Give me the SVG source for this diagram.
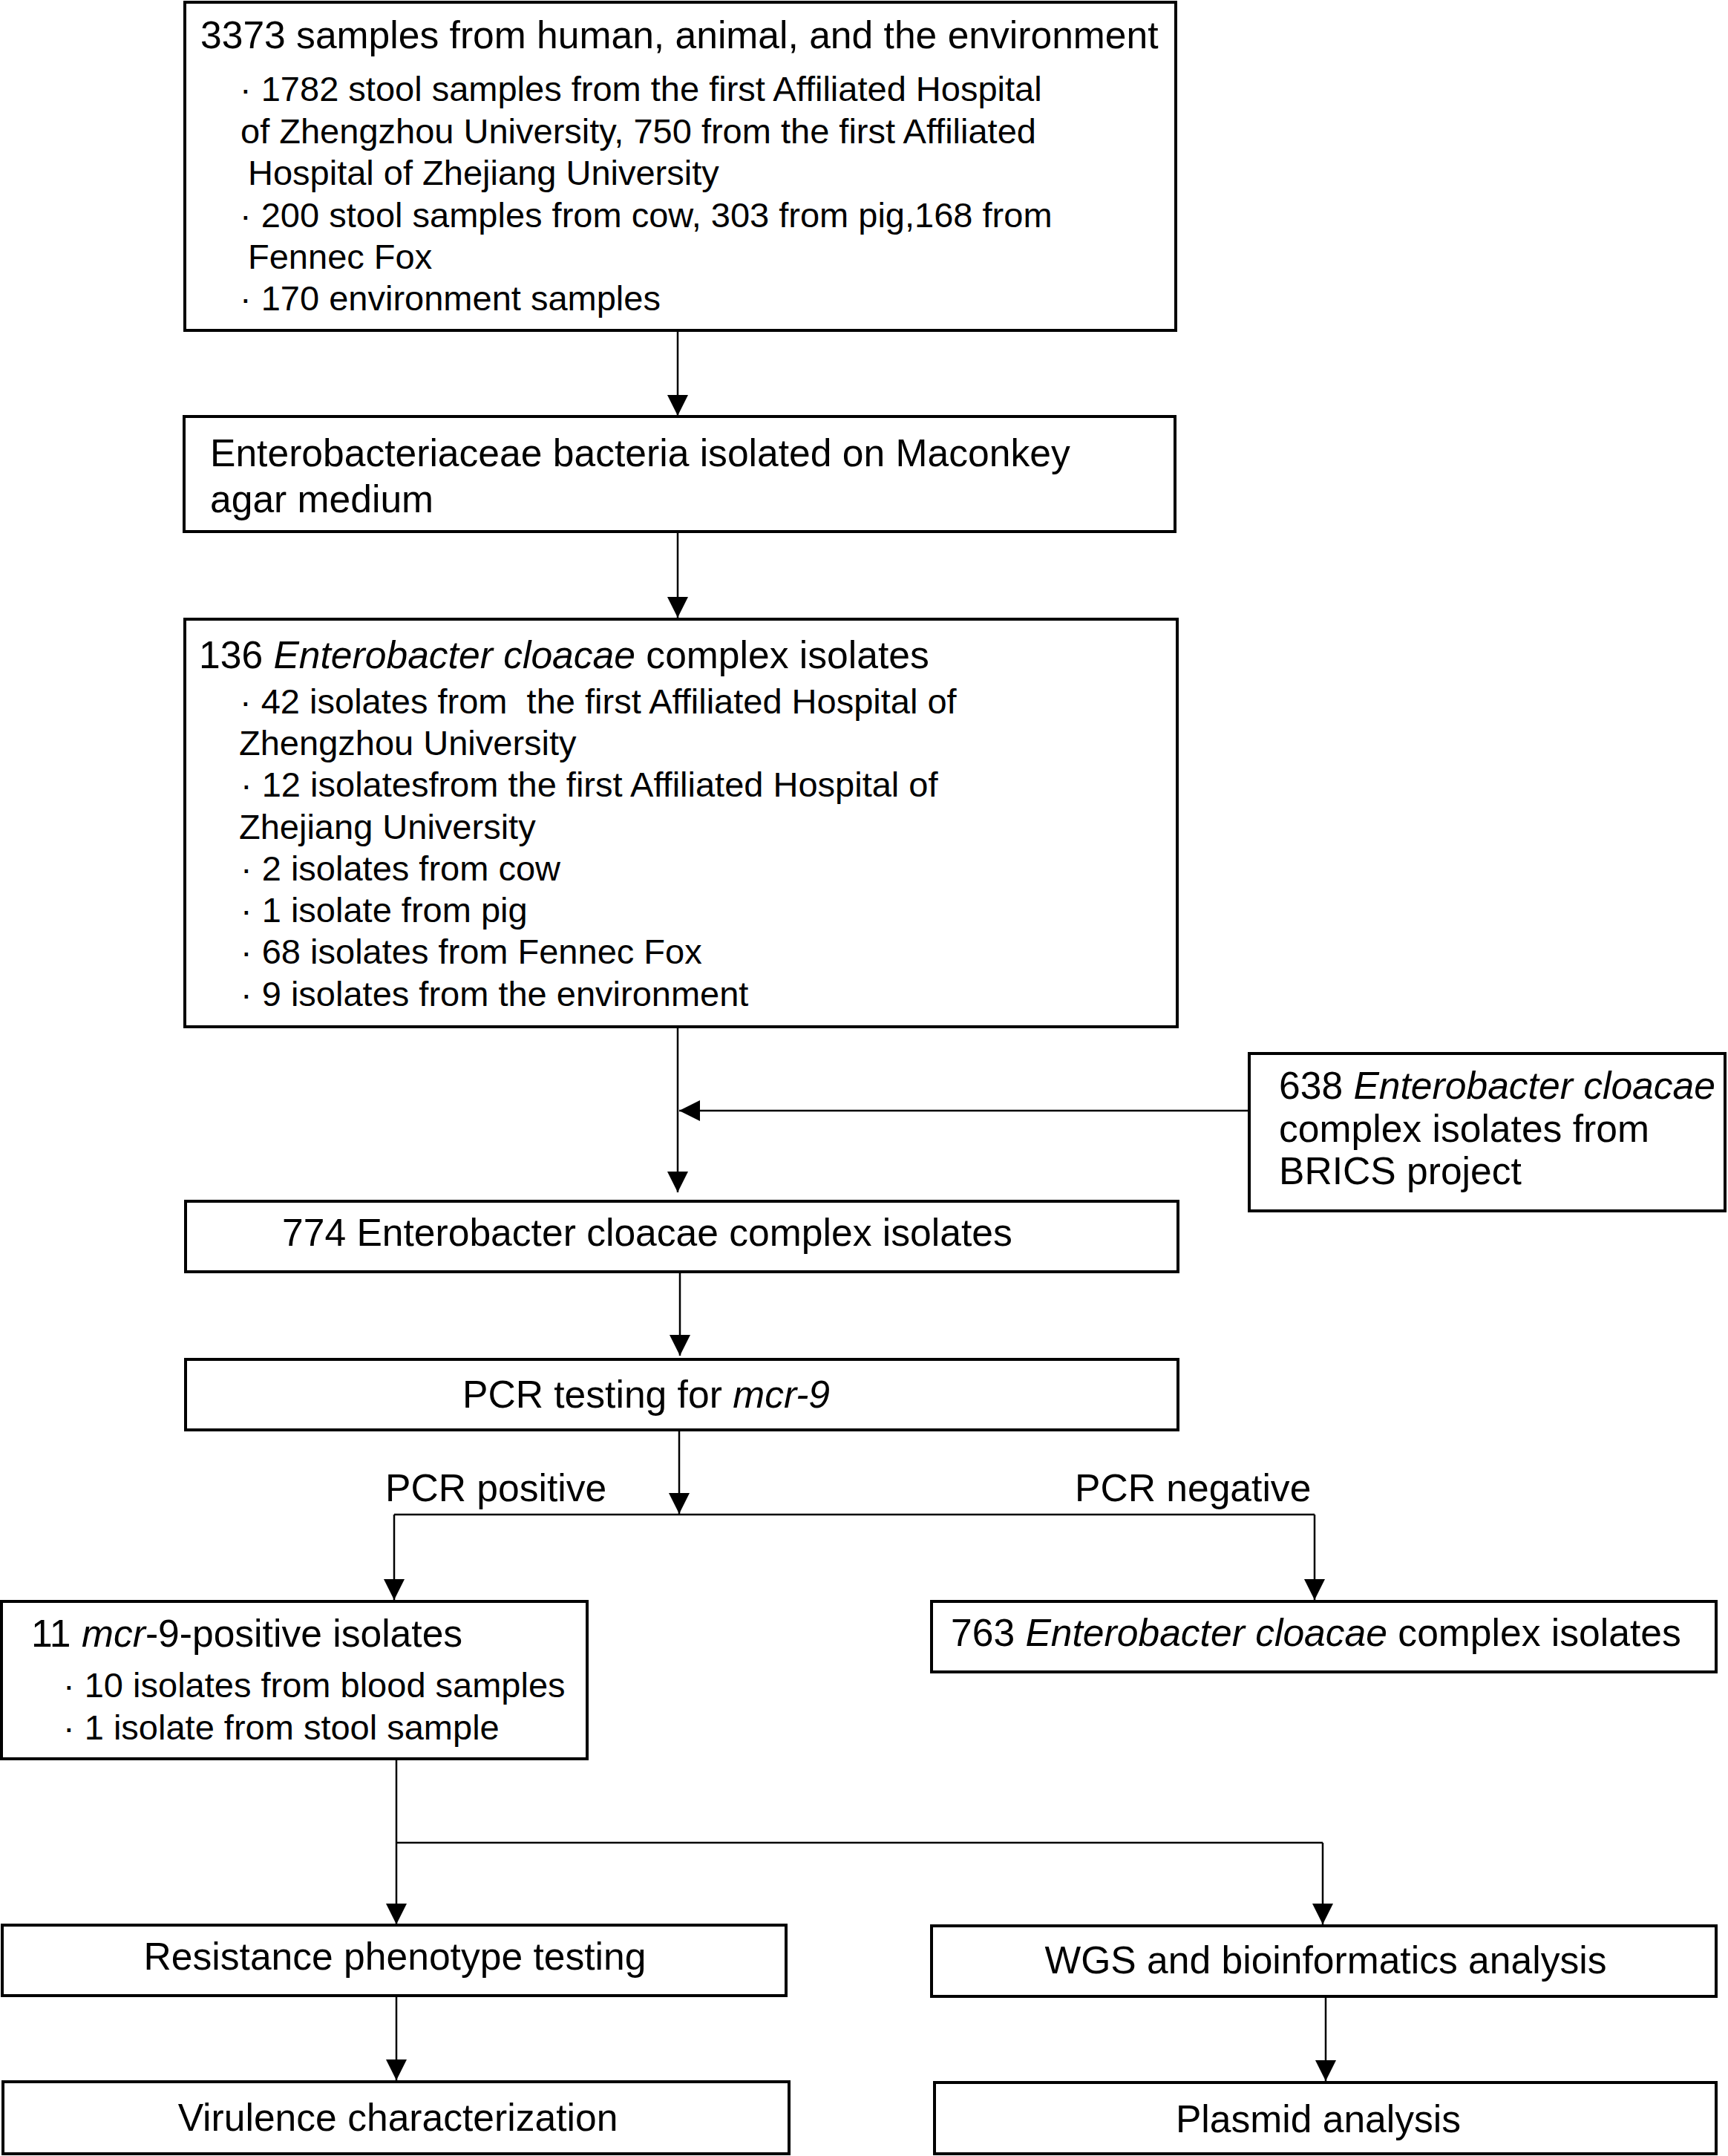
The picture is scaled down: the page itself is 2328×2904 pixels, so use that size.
<svg xmlns="http://www.w3.org/2000/svg" width="2328" height="2904" viewBox="0 0 2328 2904">
<style>
.box{fill:#fff;stroke:#000;stroke-width:4}
.t{font-family:"Liberation Sans",Arial,sans-serif;font-size:51.6px;fill:#000}
.b{font-family:"Liberation Sans",Arial,sans-serif;font-size:47px;fill:#000}
.c{fill:none;stroke:#000;stroke-width:2.5}
.i{font-style:italic}
.m{text-anchor:middle}
</style>
<defs>
<marker id="ah" viewBox="0 0 28 28" refX="28" refY="14" markerWidth="28" markerHeight="28" markerUnits="userSpaceOnUse" orient="auto">
<path d="M0,0 L28,14 L0,28 Z" fill="#000"/>
</marker>
</defs>
<rect width="2328" height="2904" fill="#fff"/>
<g id="connectors">
<line class="c" x1="913" y1="445" x2="913" y2="560" marker-end="url(#ah)"/>
<line class="c" x1="913" y1="717" x2="913" y2="832" marker-end="url(#ah)"/>
<line class="c" x1="913" y1="1383" x2="913" y2="1606" marker-end="url(#ah)"/>
<line class="c" x1="1683" y1="1496" x2="915" y2="1496" marker-end="url(#ah)"/>
<line class="c" x1="916" y1="1713" x2="916" y2="1826" marker-end="url(#ah)"/>
<line class="c" x1="915" y1="1926" x2="915" y2="2039" marker-end="url(#ah)"/>
<line class="c" x1="531" y1="2040" x2="1771" y2="2040"/>
<line class="c" x1="531" y1="2040" x2="531" y2="2155" marker-end="url(#ah)"/>
<line class="c" x1="1771" y1="2040" x2="1771" y2="2155" marker-end="url(#ah)"/>
<line class="c" x1="534" y1="2370" x2="534" y2="2592" marker-end="url(#ah)"/>
<line class="c" x1="534" y1="2482" x2="1782" y2="2482"/>
<line class="c" x1="1782" y1="2482" x2="1782" y2="2592" marker-end="url(#ah)"/>
<line class="c" x1="534" y1="2688" x2="534" y2="2802" marker-end="url(#ah)"/>
<line class="c" x1="1786" y1="2689" x2="1786" y2="2803" marker-end="url(#ah)"/>
</g>
<g id="n1">
<rect class="box" x="249" y="3" width="1335" height="442"/>
<text class="t" x="270" y="65">3373 samples from human, animal, and the environment</text>
<text class="b" x="323" y="136">· 1782 stool samples from the first Affiliated Hospital</text>
<text class="b" x="324" y="193">of Zhengzhou University, 750 from the first Affiliated</text>
<text class="b" x="334" y="249">Hospital of Zhejiang University</text>
<text class="b" x="323" y="306">· 200 stool samples from cow, 303 from pig,168 from</text>
<text class="b" x="334" y="362">Fennec Fox</text>
<text class="b" x="323" y="418">· 170 environment samples</text>
</g>
<g id="n2">
<rect class="box" x="248" y="561" width="1335" height="155"/>
<text class="t" x="283" y="628">Enterobacteriaceae bacteria isolated on Maconkey</text>
<text class="t" x="283" y="690">agar medium</text>
</g>
<g id="n3">
<rect class="box" x="249" y="834" width="1337" height="549"/>
<text class="t" x="268" y="900">136 <tspan class="i">Enterobacter cloacae</tspan> complex isolates</text>
<text class="b" x="323" y="961" xml:space="preserve">· 42 isolates from  the first Affiliated Hospital of</text>
<text class="b" x="322" y="1017">Zhengzhou University</text>
<text class="b" x="324" y="1073">· 12 isolatesfrom the first Affiliated Hospital of</text>
<text class="b" x="322" y="1130">Zhejiang University</text>
<text class="b" x="324" y="1186">· 2 isolates from cow</text>
<text class="b" x="324" y="1242">· 1 isolate from pig</text>
<text class="b" x="324" y="1298">· 68 isolates from Fennec Fox</text>
<text class="b" x="324" y="1355">· 9 isolates from the environment</text>
</g>
<g id="n4">
<rect class="box" x="1683" y="1419" width="641" height="212"/>
<text class="t" x="1723" y="1480">638 <tspan class="i">Enterobacter cloacae</tspan></text>
<text class="t" x="1723" y="1538">complex isolates from</text>
<text class="t" x="1723" y="1595">BRICS project</text>
</g>
<g id="n5">
<rect class="box" x="250" y="1618" width="1337" height="95"/>
<text class="t" x="380" y="1678">774 Enterobacter cloacae complex isolates</text>
</g>
<g id="n6">
<rect class="box" x="250" y="1831" width="1337" height="95"/>
<text class="t" x="623" y="1896">PCR testing for <tspan class="i">mcr-9</tspan></text>
</g>
<g id="labels">
<text class="t" x="519" y="2022">PCR positive</text>
<text class="t" x="1448" y="2022">PCR negative</text>
</g>
<g id="n7">
<rect class="box" x="2" y="2157" width="789" height="212"/>
<text class="t" x="42" y="2218">11 <tspan class="i">mcr</tspan>-9-positive isolates</text>
<text class="b" x="85" y="2286">· 10 isolates from blood samples</text>
<text class="b" x="85" y="2343">· 1 isolate from stool sample</text>
</g>
<g id="n8">
<rect class="box" x="1255" y="2157" width="1057" height="95"/>
<text class="t" x="1281" y="2217">763 <tspan class="i">Enterobacter cloacae</tspan> complex isolates</text>
</g>
<g id="n9">
<rect class="box" x="3" y="2593" width="1056" height="95"/>
<text class="t m" x="532" y="2653">Resistance phenotype testing</text>
</g>
<g id="n10">
<rect class="box" x="1255" y="2594" width="1057" height="95"/>
<text class="t m" x="1786" y="2658">WGS and bioinformatics analysis</text>
</g>
<g id="n11">
<rect class="box" x="4" y="2804" width="1059" height="97"/>
<text class="t m" x="536" y="2870">Virulence characterization</text>
</g>
<g id="n12">
<rect class="box" x="1259" y="2805" width="1053" height="96"/>
<text class="t m" x="1776" y="2872">Plasmid analysis</text>
</g>
</svg>
